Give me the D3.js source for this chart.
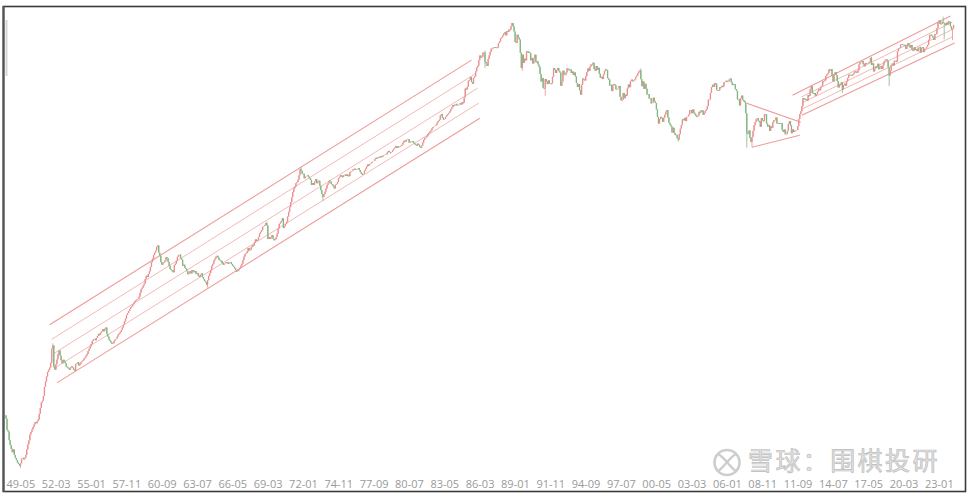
<!DOCTYPE html>
<html><head><meta charset="utf-8">
<script src="https://cdn.jsdelivr.net/npm/d3@7"></script>
<style>html,body{margin:0;padding:0;background:#fff;overflow:hidden}</style>
</head><body>
<svg id="c" width="971" height="498"></svg>
<script>
// ---- data (monthly closes, log-scale index chart) ----
const startYear = 1949, startMonth = 5;
const firstOpen = 176.2;
const closes = [
/*1949*/ 168,144,141,125,117,111,106,110,
/*1950*/ 102,98,95,92,90,88,91,97,98,96,98,102,
/*1951*/ 110,118,125,135,140,145,150,155,160,158,162,166,
/*1952*/ 180,195,210,215,230,260,280,300,320,330,340,363,
/*1953*/ 440,460,345,330,355,380,410,430,400,375,360,378,
/*1954*/ 370,360,345,340,335,330,340,345,340,330,325,356,
/*1955*/ 360,365,350,355,365,370,375,385,390,400,410,426,
/*1956*/ 440,455,470,490,500,505,495,510,525,540,535,549,
/*1957*/ 560,575,560,580,590,540,520,500,490,480,470,475,
/*1958*/ 490,500,505,520,535,545,555,570,590,610,640,667,
/*1959*/ 700,720,740,760,780,790,810,830,850,860,870,875,
/*1960*/ 900,950,1000,1020,1050,1080,1150,1200,1180,1230,1280,1357,
/*1961*/ 1450,1520,1600,1650,1700,1790,1820,1650,1580,1450,1400,1433,
/*1962*/ 1450,1480,1550,1530,1450,1380,1320,1300,1290,1260,1390,1420,
/*1963*/ 1480,1560,1600,1610,1530,1500,1380,1400,1340,1320,1280,1225,
/*1964*/ 1250,1280,1240,1300,1290,1260,1280,1230,1250,1200,1180,1217,
/*1965*/ 1240,1180,1150,1120,1100,1060,1130,1200,1250,1300,1380,1418,
/*1966*/ 1480,1520,1560,1580,1540,1500,1480,1470,1430,1400,1420,1430,
/*1967*/ 1450,1440,1420,1440,1450,1410,1380,1360,1330,1300,1270,1284,
/*1968*/ 1320,1340,1380,1420,1490,1560,1620,1640,1680,1760,1700,1715,
/*1969*/ 1780,1830,1820,1900,1980,1940,1970,2050,2150,2200,2250,2359,
/*1970*/ 2380,2420,2480,2400,1990,2050,2000,2050,2100,2000,1960,1987,
/*1971*/ 2050,2150,2300,2450,2500,2560,2650,2320,2380,2450,2520,2714,
/*1972*/ 2900,3100,3300,3550,3800,4000,4100,4300,4350,4500,4800,5208,
/*1973*/ 5100,4900,4900,4600,4700,4750,4800,4700,4600,4500,4200,4307,
/*1974*/ 4200,4400,4550,4300,4400,4450,4150,3900,3700,3550,3700,3817,
/*1975*/ 4000,4200,4300,4450,4400,4250,4200,4100,4000,4200,4250,4359,
/*1976*/ 4600,4700,4800,4750,4700,4800,4850,4750,4850,4800,4750,4991,
/*1977*/ 5050,5100,5200,5250,5150,5200,5250,5300,5150,5000,4900,4866,
/*1978*/ 4900,5100,5250,5400,5550,5500,5600,5650,5750,5800,5850,6002,
/*1979*/ 6100,6050,6150,6200,6150,6250,6200,6300,6350,6400,6400,6570,
/*1980*/ 6700,6600,6550,6600,6750,6900,7000,7150,7000,7150,7100,7116,
/*1981*/ 7200,7300,7500,7700,7600,7800,7850,7900,7500,7600,7650,7682,
/*1982*/ 7500,7400,7300,7200,7400,7300,7100,7000,7200,7500,7800,8017,
/*1983*/ 8050,8200,8450,8600,8750,8900,9150,9300,9400,9500,9650,9894,
/*1984*/ 10100,10300,10900,11100,10600,10300,10400,10700,10900,11100,11300,11543,
/*1985*/ 11900,12200,12600,12500,12700,12800,12500,12600,12700,12900,12700,13113,
/*1986*/ 13000,14000,15800,15600,16200,17600,17800,18500,17300,16900,18300,18701,
/*1987*/ 20000,21100,21600,23300,24900,24200,24500,26000,26000,22800,22300,21564,
/*1988*/ 23700,25000,26200,27400,27400,27800,28000,27900,27900,27800,29600,30159,
/*1989*/ 31600,32000,32800,33700,34300,32900,34900,34400,35600,35500,37300,38916,
/*1990*/ 37200,34600,29980,29600,33100,31900,31000,25900,20980,25200,22450,23849,
/*1991*/ 23290,26400,26300,26100,25800,23300,24100,22300,23900,25200,22700,22984,
/*1992*/ 22000,21300,19300,17400,18300,15950,15900,18000,17400,16800,17700,16925,
/*1993*/ 17000,16950,18600,20900,20500,19600,20400,21000,20100,19700,16400,17417,
/*1994*/ 20200,19100,19100,19700,20900,20600,20450,20600,19550,19990,19070,19723,
/*1995*/ 18650,17050,16140,16800,15440,14520,16680,18120,17910,17650,18740,19868,
/*1996*/ 20810,20130,21400,22040,21950,22530,20690,20170,21560,20470,21020,19361,
/*1997*/ 18330,18560,18000,19150,20070,20600,20330,18230,17890,16460,16630,15259,
/*1998*/ 16630,16830,16530,15640,15670,15830,16380,14110,13410,13560,14880,13842,
/*1999*/ 14500,14370,15840,16700,16110,17530,17860,17440,17600,17940,18560,18934,
/*2000*/ 19540,19960,20340,17970,16330,17410,15730,16860,15750,14540,14650,13786,
/*2001*/ 13840,12880,13000,13930,13260,12970,11860,10710,9770,10370,10700,10543,
/*2002*/ 9998,10590,11025,11490,11760,10620,9880,9620,9380,8640,9220,8579,
/*2003*/ 8340,8360,7973,7831,8425,9083,9563,10344,10219,10560,10100,10677,
/*2004*/ 10784,11041,11715,11761,11236,11858,11326,11082,10824,10771,10899,11489,
/*2005*/ 11388,11740,11668,11009,11277,11584,11900,12414,13574,13607,14872,16111,
/*2006*/ 16650,16205,17060,16906,15467,15505,15457,16141,16128,16399,16274,17226,
/*2007*/ 17383,17604,17288,17400,17876,18138,17249,16569,16786,16737,15681,15308,
/*2008*/ 13592,13604,12526,13850,14339,13481,13377,13073,11260,8577,8512,8860,
/*2009*/ 7994,7568,8110,8828,9523,9958,10357,10493,10133,10035,9346,10546,
/*2010*/ 10198,10126,11090,11057,9769,9383,9537,8824,9369,9202,9937,10229,
/*2011*/ 10238,10624,9755,9850,9694,9816,9833,8955,8700,8988,8435,8455,
/*2012*/ 8803,9723,10084,9521,8543,9007,8695,8840,8870,8928,9446,10395,
/*2013*/ 11139,11559,12398,13861,13775,13677,13668,13389,14456,14328,15662,16291,
/*2014*/ 14915,14841,14828,14304,14632,15162,15621,15425,16174,16414,17460,17451,
/*2015*/ 17674,18798,19207,19520,20563,20236,20585,18890,17388,19083,19747,19034,
/*2016*/ 17518,16027,16759,16666,17235,15576,16569,16887,16450,17425,18308,19114,
/*2017*/ 19041,19119,18909,19197,19651,20033,19925,19646,20356,22012,22725,22765,
/*2018*/ 23098,22068,21454,22468,22202,22305,22554,22865,24120,21920,22351,20015,
/*2019*/ 20773,21385,21206,22259,20601,21276,21522,20704,21756,22927,23294,23657,
/*2020*/ 23205,21143,18917,20194,21878,22288,21710,23140,23185,22977,26434,27444,
/*2021*/ 27663,28966,29179,28813,28860,28792,27284,28090,29453,28893,27822,28792,
/*2022*/ 27002,26527,27821,26848,27280,26393,27802,28092,25937,27587,27969,26095,
/*2023*/ 27327,27446,28041,28856,30888,33189,33172,32619,31858,30859,33487,33464,
/*2024*/ 36287,39166,40369,38406,38488,39583,39102,38648,37920,39081,38208,39895,
/*2025*/ 39572,37156,35618,36045,37965
];
// notable monthly extremes [month, high, low]
const wicks = [
  ["1950-07",null,85.3],["1953-02",474,null],["1953-03",null,340],["1961-07",1829,null],
  ["1965-07",null,1020],["1970-04",2534,null],["1973-01",5359,null],["1974-10",null,3355],
  ["1987-10",26646,21036],["1989-12",38957,null],["1990-10",null,20222],["1992-08",null,14309],
  ["1996-06",22666,null],["2000-04",20833,null],["2003-04",null,7603],["2008-10",null,6994],
  ["2009-03",null,7054],["2016-06",null,14864],["2018-10",24448,null],["2020-03",null,16358],
  ["2024-07",42426,null],["2024-08",null,31156],["2025-04",null,30792]
];
const tickLabels = ["49-05","52-03","55-01","57-11","60-09","63-07","66-05","69-03","72-01",
  "74-11","77-09","80-07","83-05","86-03","89-01","91-11","94-09","97-07","00-05","03-03",
  "06-01","08-11","11-09","14-07","17-05","20-03","23-01"];
// trend lines: [fromMonth, fromValue, toMonth, toValue]
const channelEdges = [
  ["1952-11",612,"1986-09",23380],
  ["1953-06",275,"1987-05",10505],
  ["2008-10",12900,"2013-02",9940],
  ["2009-03",7040,"2013-01",8310],
  ["2012-06",14430,"2025-02",42910],
  ["2013-03",10950,"2025-06",29570]
];
const channelInner = [
  ["1953-01",501,"1987-01",19430],
  ["1953-03",412,"1987-03",15910],
  ["1953-04",338,"1987-04",12940],
  ["2013-03",14100,"2025-04",39450],
  ["2013-03",12960,"2025-04",35630],
  ["2013-03",11910,"2025-04",32200]
];
const watermark = "雪球：围棋投研";

// ---- helpers ----
const mIndex = s => { const [y,m] = s.split("-").map(Number); return (y-startYear)*12 + (m-startMonth); };
const monthLabel = i => { const t = startMonth-1+i; const y = startYear + Math.floor(t/12); const m = t%12+1;
  return String(y%100).padStart(2,"0") + "-" + String(m).padStart(2,"0"); };

const svg = d3.select("#c");
const x = d3.scaleLinear().domain([0, 913]).range([6, 954.6]);
const y = d3.scaleLog().domain([85.25, 38957]).range([468, 23]);

const wickMap = new Map(wicks.map(w => [mIndex(w[0]), w]));
const candles = closes.map((c,i) => {
  const o = i === 0 ? firstOpen : closes[i-1];
  const w = wickMap.get(i);
  const hi = Math.max(o, c, w && w[1] ? w[1] : 0);
  const lo = Math.min(o, c, w && w[2] ? w[2] : Infinity);
  return {i, o, c, hi, lo, up: c >= o};
});

// frame
svg.append("rect").attr("x",3.5).attr("y",6.5).attr("width",962).attr("height",485)
  .attr("fill","#fff").attr("stroke","#3a3a3a").attr("stroke-width",1.6);
svg.append("line").attr("x1",3.5).attr("x2",3.5).attr("y1",6).attr("y2",492)
  .attr("stroke","#555").attr("stroke-width",2.2);
svg.append("line").attr("x1",6.5).attr("x2",6.5).attr("y1",20).attr("y2",76)
  .attr("stroke","#d6d6d6").attr("stroke-width",2);

// channel lines
const lg = svg.append("g");
lg.selectAll("line.inner").data(channelInner).join("line").attr("class","inner")
  .attr("x1",d=>x(mIndex(d[0]))).attr("y1",d=>y(d[1]))
  .attr("x2",d=>x(mIndex(d[2]))).attr("y2",d=>y(d[3]))
  .attr("stroke","#f3b9b9").attr("stroke-width",1);
lg.selectAll("line.edge").data(channelEdges).join("line").attr("class","edge")
  .attr("x1",d=>x(mIndex(d[0]))).attr("y1",d=>y(d[1]))
  .attr("x2",d=>x(mIndex(d[2]))).attr("y2",d=>y(d[3]))
  .attr("stroke","#ef9a9a").attr("stroke-width",1.1);

// candles
const cg = svg.append("g");
cg.selectAll("line.wick").data(candles).join("line").attr("class","wick")
  .attr("x1",d=>x(d.i)).attr("x2",d=>x(d.i))
  .attr("y1",d=>y(d.hi)).attr("y2",d=>y(d.lo))
  .attr("stroke",d=>d.up?"#ee9a9a":"#8fbf8f").attr("stroke-width",0.9);
cg.selectAll("line.body").data(candles).join("line").attr("class","body")
  .attr("x1",d=>x(d.i)).attr("x2",d=>x(d.i))
  .attr("y1",d=>y(d.o)).attr("y2",d=>y(d.c)+(Math.abs(y(d.o)-y(d.c))<0.8?0.8:0))
  .attr("stroke",d=>d.up?"#ec8e8e":"#82b682").attr("stroke-width",1.3);

// x axis
const tickIdx = tickLabels.map(l => { for (let i=0;i<=913;i++) if (monthLabel(i)===l) return i; return 0; });
const axis = d3.axisBottom(x).tickValues(tickIdx)
  .tickFormat((d,k)=>tickLabels[k]).tickSize(0).tickPadding(0);
const ag = svg.append("g").attr("transform","translate(0,480.5)").call(axis);
ag.select(".domain").remove();
ag.selectAll("text").attr("text-anchor","start").attr("fill","#9a9a9a")
  .style("font-family","'Open Sans', 'Noto Sans', sans-serif").style("font-size","11px");

// watermark
const wm = svg.append("g");
wm.append("circle").attr("cx",727).attr("cy",462.5).attr("r",12.5)
  .attr("fill","none").attr("stroke","#cdcdcd").attr("stroke-width",2.6);
wm.append("path").attr("d","M719,454.5 C726,459.5 729,465.5 735,470.5 M735,454.5 C728,459.5 725,465.5 719,470.5")
  .attr("fill","none").attr("stroke","#cdcdcd").attr("stroke-width",2.4).attr("stroke-linecap","round");
wm.append("text").attr("x",748).attr("y",470).text(watermark)
  .attr("fill","#e2e2e2").attr("stroke","#bdbdbd").attr("stroke-width",0.7)
  .style("font-family","'Noto Sans CJK SC', sans-serif").style("font-size","25px")
  .style("letter-spacing","2.4px");
</script>
</body></html>
